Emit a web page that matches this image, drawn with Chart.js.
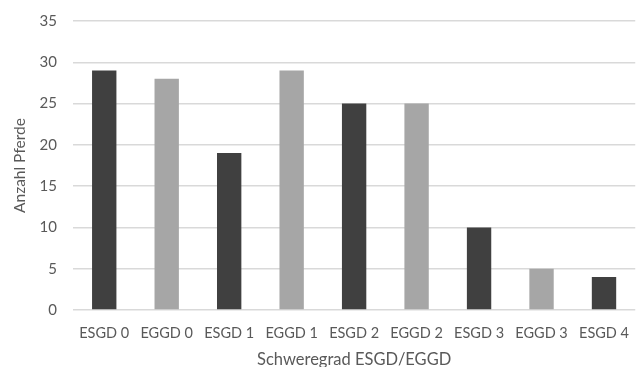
<!DOCTYPE html>
<html>
<head>
<meta charset="utf-8">
<script src="https://cdn.jsdelivr.net/npm/chart.js@4/dist/chart.umd.min.js"></script>
<style>
  html, body { margin: 0; padding: 0; background: #ffffff; overflow: hidden; }
  #wrap { width: 644px; height: 367px; position: relative; }
</style>
</head>
<body>
<div id="wrap"><canvas id="chart"></canvas></div>
<script>
// Anzahl Pferde je Schweregrad (ESGD = squamös, EGGD = glandulär)
const categories = ['ESGD 0', 'EGGD 0', 'ESGD 1', 'EGGD 1', 'ESGD 2', 'EGGD 2', 'ESGD 3', 'EGGD 3', 'ESGD 4'];
const horseCounts = [29, 28, 19, 29, 25, 25, 10, 5, 4];
const yTicks = [0, 5, 10, 15, 20, 25, 30, 35];

const DARK = '#404040';
const LIGHT = '#a6a6a6';
const TEXT = '#595959';
const FONT = 'Lato, "Open Sans", sans-serif';

// ESGD-Balken dunkel, EGGD-Balken hell
const barColors = categories.map(c => c.startsWith('ESGD') ? DARK : LIGHT);

new Chart(document.getElementById('chart'), {
  type: 'bar',
  data: {
    labels: categories,
    datasets: [{
      data: horseCounts,
      backgroundColor: barColors,
      borderWidth: 0,
      barPercentage: 0.39,
      categoryPercentage: 1.0
    }]
  },
  options: {
    responsive: true,
    maintainAspectRatio: false,
    animation: false,
    layout: { padding: 0 },
    plugins: {
      legend: { display: false },
      tooltip: { enabled: false }
    },
    scales: {
      x: {
        afterFit: axis => { axis.height = 57; },
        grid: { display: false, drawTicks: false },
        border: { display: false },
        ticks: { color: TEXT, font: { family: FONT, size: 14.5 }, padding: 15, maxRotation: 0, autoSkip: false },
        title: {
          display: true,
          text: 'Schweregrad ESGD/EGGD',
          color: TEXT,
          font: { family: FONT, size: 16.5, lineHeight: 1 },
          padding: { top: 0, bottom: -1 }
        }
      },
      y: {
        min: 0,
        max: 35,
        afterFit: axis => { axis.width = 73; axis.paddingTop = 21; },
        afterBuildTicks: axis => { axis.ticks = yTicks.map(v => ({ value: v })); },
        grid: { color: '#d9d9d9', lineWidth: 1.5, drawTicks: false },
        border: { display: false },
        ticks: { color: TEXT, font: { family: FONT, size: 15 }, padding: 16 },
        title: {
          display: true,
          text: 'Anzahl Pferde',
          color: TEXT,
          font: { family: FONT, size: 15.5, lineHeight: 1 },
          padding: { top: 12, bottom: 0 }
        }
      }
    }
  }
});
</script>
</body>
</html>
